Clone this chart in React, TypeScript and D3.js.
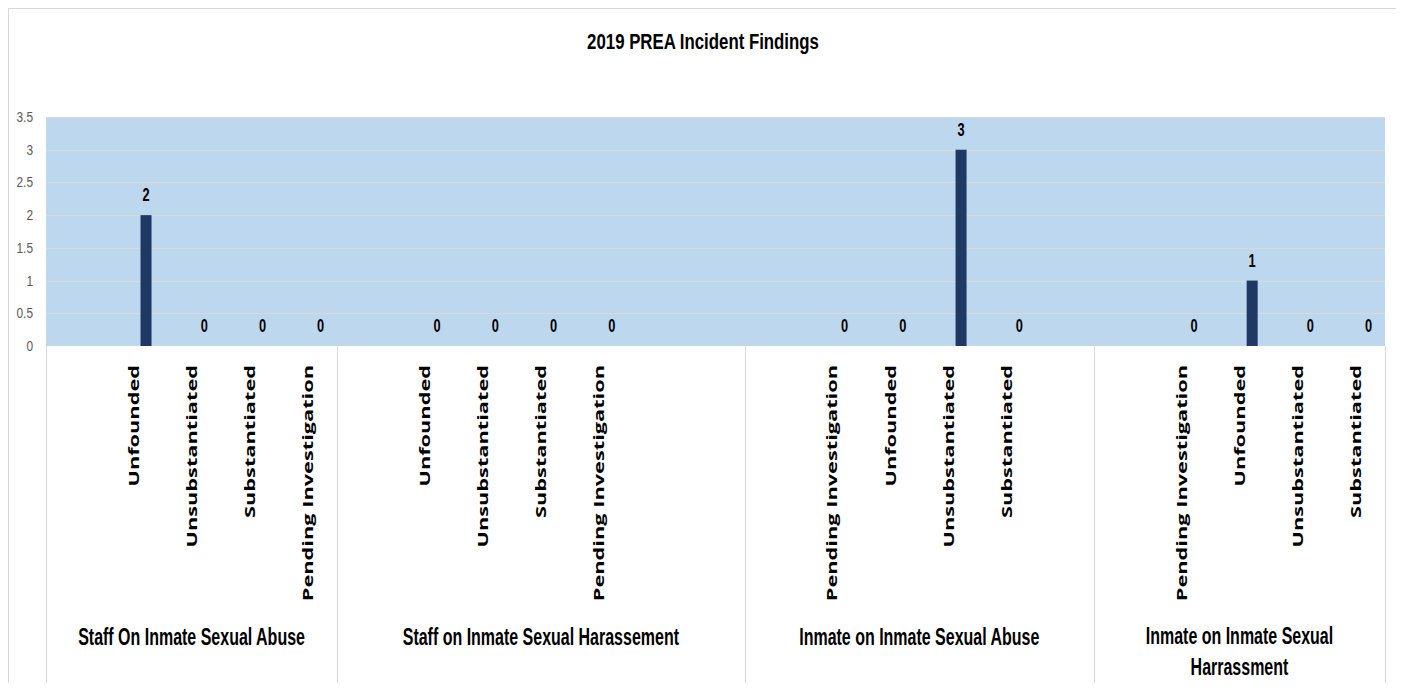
import * as d3 from "d3";
import React from "react";

// chart values
const chartTitle = "2019 PREA Incident Findings";
const groupNames = [
    ["Staff On Inmate Sexual Abuse"],
    ["Staff on Inmate Sexual Harassement"],
    ["Inmate on Inmate Sexual Abuse"],
    ["Inmate on Inmate Sexual", "Harrassment"],
];
// empty strings are blank category slots in the source sheet
const groupFindings = [
    ["", "Unfounded", "Unsubstantiated", "Substantiated", "Pending Investigation"],
    ["", "Unfounded", "Unsubstantiated", "Substantiated", "Pending Investigation", "", ""],
    ["", "Pending Investigation", "Unfounded", "Unsubstantiated", "Substantiated", ""],
    ["", "Pending Investigation", "Unfounded", "Unsubstantiated", "Substantiated"],
];
const groupCounts = [
    [null, 2, 0, 0, 0],
    [null, 0, 0, 0, 0, null, null],
    [null, 0, 0, 3, 0, null],
    [null, 0, 1, 0, 0],
];
const yTicks = [0, 0.5, 1, 1.5, 2, 2.5, 3, 3.5];

const width = 1396;
const height = 675;
const plot = {left: 38, right: 1377, top: 109, bottom: 338};
const sans = "'Liberation Sans', Arial, sans-serif";
const grid = "#D9D9D9";

const slots = groupFindings.flatMap((findings, g) =>
    findings.map((label, i) => ({key: `${g}-${i}`, group: g, label, value: groupCounts[g][i]}))
);

const App = () => {
    const x = d3.scaleBand<string>()
        .domain(slots.map(s => s.key))
        .range([plot.left, plot.right]);
    const y = d3.scaleLinear()
        .domain([0, 3.5])
        .range([plot.bottom, plot.top]);

    const bw = x.bandwidth();
    const barOffset = 12.7; // series sits right of the category centre
    const barWidth = 11;

    // group spans on the x axis
    const spans = groupFindings.map((findings, g) => {
        const x0 = x(`${g}-0`)!;
        const x1 = x(`${g}-${findings.length - 1}`)! + bw;
        return {x0, x1, mid: (x0 + x1) / 2};
    });
    const seps = [...spans.map(s => s.x0), spans[spans.length - 1].x1];

    return (
        <svg width={width} height={height} style={{display: "block"}}>
            <rect x={0.5} y={0.5} width={1391.5} height={height + 20} fill="#fff" stroke={grid}/>

            <text textAnchor="middle" fontFamily={sans} fontWeight="bold" fontSize={20.5} fill="#000"
                  transform={`translate(${width / 2 - 3},41) scale(0.82,1.1)`}>
                {chartTitle}
            </text>

            <rect x={plot.left} y={plot.top} width={plot.right - plot.left} height={plot.bottom - plot.top}
                  fill="#BDD7EE"/>
            {yTicks.filter(t => t > 0).map(t => (
                <line key={t} x1={plot.left} x2={plot.right} y1={Math.round(y(t)) + 0.5} y2={Math.round(y(t)) + 0.5}
                      stroke={grid} strokeWidth={1}/>
            ))}
            {yTicks.map(t => (
                <text key={t} textAnchor="end" dy="0.35em" fontFamily={sans} fontSize={13.5} fill="#595959"
                      transform={`translate(25,${y(t)}) scale(0.88,1.05)`}>{t}</text>
            ))}

            {seps.map((sx, i) => (
                <line key={i} x1={Math.round(sx) + 0.5} x2={Math.round(sx) + 0.5} y1={plot.bottom} y2={height}
                      stroke={grid}/>
            ))}

            {slots.filter(s => s.value !== null).map(s => {
                const cx = x(s.key)! + bw / 2 + barOffset;
                const v = s.value as number;
                return (
                    <g key={s.key}>
                        {v > 0 && <rect x={cx - barWidth / 2} y={y(v)} width={barWidth} height={y(0) - y(v)}
                                        fill="#1F3864"/>}
                        <text textAnchor="middle" fontFamily={sans} fontWeight="bold" fontSize={16} fill="#000"
                              transform={`translate(${cx},${y(v) - 14}) scale(0.8,1.15)`}>
                            {v}
                        </text>
                    </g>
                );
            })}

            {slots.filter(s => s.label !== "").map(s => (
                <text key={s.key} textAnchor="end" dy="0.36em" fontFamily="'Open Sans', sans-serif"
                      fontWeight="bold" fontSize={15} fill="#000"
                      transform={`translate(${x(s.key)! + bw / 2},357) rotate(-90) scale(1.45,1)`}>
                    {s.label}
                </text>
            ))}

            {groupNames.map((lines, g) => lines.map((line, li) => (
                <text key={`${g}-${li}`} textAnchor="middle" fontFamily={sans} fontWeight="bold" fontSize={19.5}
                      fill="#000"
                      transform={`translate(${spans[g].mid},${(lines.length > 1 ? 636 : 637) + li * 31}) scale(0.82,1.2)`}>
                    {line}
                </text>
            )))}
        </svg>
    );
};

export default App;
